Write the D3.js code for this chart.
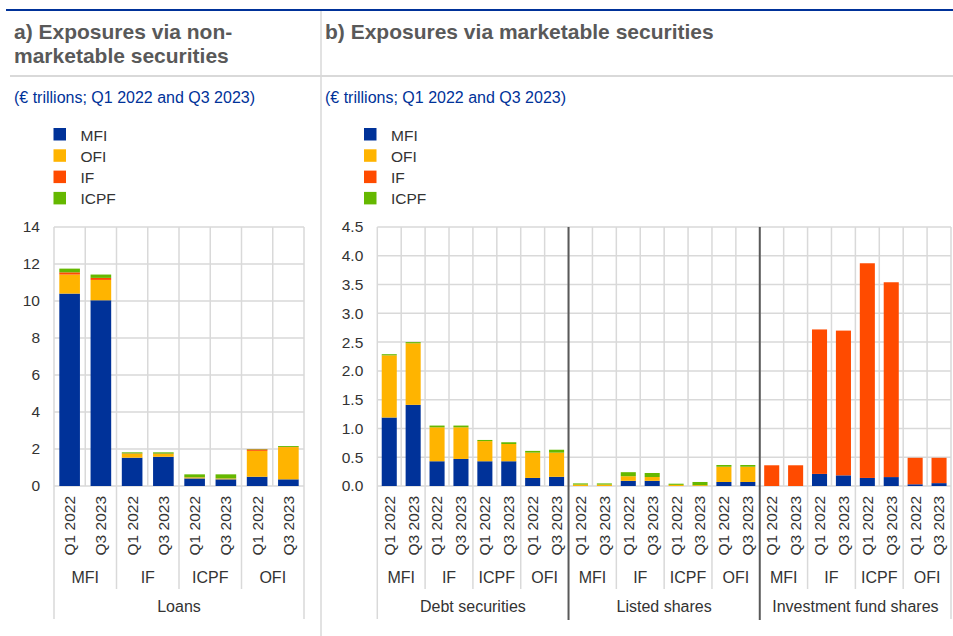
<!DOCTYPE html>
<html>
<head>
<meta charset="utf-8">
<script src="https://cdn.jsdelivr.net/npm/d3@7"></script>
<style>
  body { margin: 0; background: #fff; }
  svg { display: block; font-family: "Liberation Sans", Arial, sans-serif; }
</style>
</head>
<body>
<div id="chart"></div>
<script>
// ============================================================================
// DATA
// ============================================================================

const seriesNames = ["MFI", "OFI", "IF", "ICPF"];
const seriesColors = ["#003299", "#ffb400", "#ff4b00", "#65b800"];

const sectors = ["MFI", "IF", "ICPF", "OFI"];
const periods = ["Q1 2022", "Q3 2023"];

// panel a: loans (8 bars: sector x period)
const loansInstruments = ["Loans"];
const loansMFI  = [10.40, 10.04, 1.53, 1.58, 0.41, 0.36, 0.50, 0.36];
const loansOFI  = [1.03, 1.10, 0.21, 0.15, 0.05, 0.04, 1.40, 1.74];
const loansIF   = [0.12, 0.11, 0.02, 0.02, 0.01, 0.01, 0.08, 0.01];
const loansICPF = [0.20, 0.18, 0.06, 0.07, 0.16, 0.22, 0.02, 0.05];
const loansTicks = [0, 2, 4, 6, 8, 10, 12, 14];

// panel b: marketable securities (24 bars: instrument x sector x period)
const secInstruments = ["Debt securities", "Listed shares", "Investment fund shares"];
const secMFI = [
    1.19, 1.41, 0.43, 0.47, 0.43, 0.43, 0.14, 0.16,
    0.00, 0.00, 0.09, 0.09, 0.00, 0.00, 0.07, 0.07,
    0.00, 0.00, 0.21, 0.185, 0.14, 0.155, 0.03, 0.05
];
const secOFI = [
    1.08, 1.07, 0.59, 0.55, 0.35, 0.30, 0.44, 0.42,
    0.025, 0.025, 0.08, 0.066, 0.02, 0.015, 0.265, 0.265,
    0.00, 0.00, 0.00, 0.00, 0.00, 0.00, 0.00, 0.00
];
const secIF = [
    0.00, 0.00, 0.00, 0.00, 0.00, 0.00, 0.00, 0.00,
    0.00, 0.00, 0.00, 0.00, 0.00, 0.00, 0.00, 0.00,
    0.36, 0.36, 2.51, 2.515, 3.73, 3.385, 0.46, 0.44
];
const secICPF = [
    0.02, 0.02, 0.03, 0.03, 0.02, 0.03, 0.03, 0.05,
    0.02, 0.02, 0.07, 0.07, 0.02, 0.055, 0.03, 0.03,
    0.00, 0.00, 0.00, 0.00, 0.00, 0.00, 0.00, 0.00
];
const secTicks = [0, 0.5, 1, 1.5, 2, 2.5, 3, 3.5, 4, 4.5];


// ============================================================================
// SVG + FRAME
// ============================================================================

const W = 953, H = 636;
const svg = d3.select("#chart").append("svg")
    .attr("width", W)
    .attr("height", H);

const TXT = "#333";
const GRID = "#d9d9d9";

// top rule and panel separators
svg.append("line")
    .attr("x1", 6).attr("x2", W).attr("y1", 10).attr("y2", 10)
    .attr("stroke", "#003299").attr("stroke-width", 2);

svg.append("line")
    .attr("x1", 10).attr("x2", W).attr("y1", 76).attr("y2", 76)
    .attr("stroke", GRID).attr("stroke-width", 2);

svg.append("line")
    .attr("x1", 321).attr("x2", 321).attr("y1", 11).attr("y2", H)
    .attr("stroke", GRID).attr("stroke-width", 1.5);

// titles
const titleA = svg.append("text")
    .attr("x", 14).attr("y", 39)
    .attr("fill", "#595959")
    .style("font-size", "21px").style("font-weight", "bold");
titleA.append("tspan").attr("x", 14).text("a) Exposures via non-");
titleA.append("tspan").attr("x", 14).attr("dy", 24).text("marketable securities");

svg.append("text")
    .attr("x", 325).attr("y", 39)
    .attr("fill", "#595959")
    .style("font-size", "21px").style("font-weight", "bold")
    .text("b) Exposures via marketable securities");

[14, 325].forEach(x => {
    svg.append("text")
        .attr("x", x).attr("y", 103)
        .attr("fill", "#003299")
        .style("font-size", "16px")
        .text("(€ trillions; Q1 2022 and Q3 2023)");
});

// legends
function drawLegend(x0) {
    const lg = svg.append("g").attr("transform", `translate(${x0},128)`);
    seriesNames.forEach((name, i) => {
        lg.append("rect")
            .attr("x", 0).attr("y", i * 21.3)
            .attr("width", 12.5).attr("height", 12.5)
            .attr("fill", seriesColors[i]);
        lg.append("text")
            .attr("x", 27).attr("y", i * 21.3 + 12.5)
            .attr("fill", TXT)
            .style("font-size", "15.5px")
            .text(name);
    });
}
drawLegend(53.5);
drawLegend(364);


// ============================================================================
// PANEL DRAWING
// ============================================================================

function drawPanel(cfg) {
    const keys = [];
    cfg.instruments.forEach(ins =>
        sectors.forEach(sec =>
            periods.forEach(per => keys.push(`${ins}|${sec}|${per}`))));

    const rows = keys.map((k, i) => {
        const r = { key: k };
        seriesNames.forEach((s, j) => r[s] = cfg.values[j][i]);
        return r;
    });

    const x = d3.scaleBand()
        .domain(keys)
        .range([cfg.left, cfg.right])
        .paddingInner(cfg.pad)
        .paddingOuter(cfg.pad / 2);

    const y = d3.scaleLinear()
        .domain([0, cfg.ticks[cfg.ticks.length - 1]])
        .range([486, 227]);

    const step = x.step();
    const colEdge = i => cfg.left + i * step;
    const g = svg.append("g");

    // gridlines
    g.selectAll("line.hgrid")
        .data(cfg.ticks)
        .join("line")
        .attr("class", "hgrid")
        .attr("x1", cfg.left).attr("x2", cfg.right)
        .attr("y1", d => y(d)).attr("y2", d => y(d))
        .attr("stroke", GRID).attr("stroke-width", 1.5);

    g.selectAll("line.vgrid")
        .data(d3.range(keys.length + 1))
        .join("line")
        .attr("class", "vgrid")
        .attr("x1", colEdge).attr("x2", colEdge)
        .attr("y1", y(cfg.ticks[cfg.ticks.length - 1])).attr("y2", y(0))
        .attr("stroke", GRID).attr("stroke-width", 1.5);

    // y axis
    const yAxis = g.append("g")
        .attr("transform", `translate(${cfg.left},0)`)
        .call(d3.axisLeft(y).tickValues(cfg.ticks).tickSize(0).tickPadding(cfg.tickPad)
            .tickFormat(cfg.fmt));
    yAxis.select(".domain").remove();
    yAxis.selectAll("text")
        .attr("fill", TXT)
        .style("font-size", "15.5px")
        .style("font-family", "Liberation Sans, Arial, sans-serif");

    // stacked bars
    const stacked = d3.stack().keys(seriesNames)(rows);
    g.selectAll("g.layer")
        .data(stacked)
        .join("g")
        .attr("class", "layer")
        .attr("fill", (d, i) => seriesColors[i])
        .selectAll("rect")
        .data(d => d.filter(s => s[1] - s[0] > 0))
        .join("rect")
        .attr("x", d => x(d.data.key))
        .attr("width", x.bandwidth())
        .attr("y", d => y(d[1]))
        .attr("height", d => y(d[0]) - y(d[1]));

    // category axis: period labels
    g.selectAll("text.period")
        .data(keys)
        .join("text")
        .attr("class", "period")
        .attr("transform", d => `translate(${x(d) + x.bandwidth() / 2},496) rotate(-90)`)
        .attr("text-anchor", "end")
        .attr("dy", "0.35em")
        .attr("fill", TXT)
        .style("font-size", "15.5px")
        .text(d => d.split("|")[2]);

    // sector labels
    const nSec = cfg.instruments.length * sectors.length;
    g.selectAll("text.sector")
        .data(d3.range(nSec))
        .join("text")
        .attr("class", "sector")
        .attr("x", i => colEdge(i * 2 + 1))
        .attr("y", 583)
        .attr("text-anchor", "middle")
        .attr("fill", TXT)
        .style("font-size", "16px")
        .text(i => sectors[i % sectors.length]);

    // instrument labels
    g.selectAll("text.instrument")
        .data(cfg.instruments)
        .join("text")
        .attr("class", "instrument")
        .attr("x", (d, i) => colEdge(i * 8 + 4))
        .attr("y", 612)
        .attr("text-anchor", "middle")
        .attr("fill", TXT)
        .style("font-size", "16px")
        .text(d => d);

    // separators under the axis
    g.selectAll("line.secsep")
        .data(d3.range(nSec + 1).filter(i => i % 4 !== 0))
        .join("line")
        .attr("class", "secsep")
        .attr("x1", i => colEdge(i * 2)).attr("x2", i => colEdge(i * 2))
        .attr("y1", 486).attr("y2", 589)
        .attr("stroke", GRID).attr("stroke-width", 1.5);

    g.selectAll("line.edge")
        .data([0, cfg.instruments.length * 8])
        .join("line")
        .attr("class", "edge")
        .attr("x1", colEdge).attr("x2", colEdge)
        .attr("y1", 486).attr("y2", 619)
        .attr("stroke", GRID).attr("stroke-width", 1.5);

    g.selectAll("line.inssep")
        .data(d3.range(1, cfg.instruments.length))
        .join("line")
        .attr("class", "inssep")
        .attr("x1", i => colEdge(i * 8)).attr("x2", i => colEdge(i * 8))
        .attr("y1", 227).attr("y2", 620)
        .attr("stroke", "#595959").attr("stroke-width", 2);
}

drawPanel({
    instruments: loansInstruments,
    values: [loansMFI, loansOFI, loansIF, loansICPF],
    ticks: loansTicks,
    fmt: d3.format("d"),
    left: 54, right: 304,
    pad: 0.34,
    tickPad: 14
});

drawPanel({
    instruments: secInstruments,
    values: [secMFI, secOFI, secIF, secICPF],
    ticks: secTicks,
    fmt: d3.format(".1f"),
    left: 377.3, right: 951,
    pad: 0.37,
    tickPad: 14
});
</script>
</body>
</html>
